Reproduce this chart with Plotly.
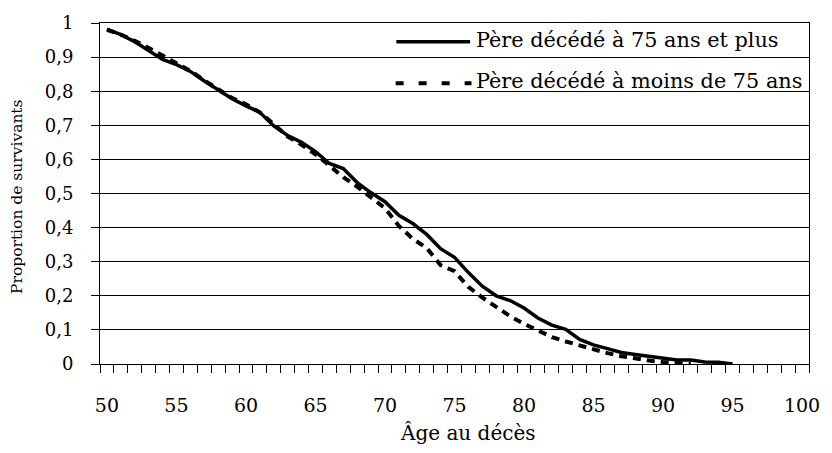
import plotly.graph_objects as go

# Ages (categories) and survival proportions
ages_pere_75_plus = list(range(50, 96))
survie_pere_75_plus = [
    0.982, 0.966, 0.945, 0.918, 0.893, 0.878, 0.858, 0.830, 0.805, 0.778,
    0.757, 0.738, 0.698, 0.670, 0.650, 0.623, 0.588, 0.573, 0.532, 0.502,
    0.476, 0.436, 0.412, 0.380, 0.338, 0.313, 0.268, 0.228, 0.200, 0.186,
    0.164, 0.135, 0.114, 0.102, 0.072, 0.056, 0.045, 0.034, 0.028, 0.022,
    0.017, 0.012, 0.012, 0.006, 0.005, 0.000,
]

ages_pere_moins_75 = list(range(50, 93))
survie_pere_moins_75 = [
    0.980, 0.966, 0.948, 0.928, 0.905, 0.882, 0.860, 0.832, 0.805, 0.780,
    0.762, 0.738, 0.703, 0.667, 0.643, 0.615, 0.582, 0.548, 0.520, 0.490,
    0.457, 0.405, 0.367, 0.340, 0.290, 0.272, 0.226, 0.195, 0.168, 0.140,
    0.118, 0.100, 0.079, 0.066, 0.055, 0.042, 0.032, 0.023, 0.016, 0.010,
    0.006, 0.003, 0.000,
]

series_names = ["Père décédé à 75 ans et plus", "Père décédé à moins de 75 ans"]

x_tick_vals = [50, 55, 60, 65, 70, 75, 80, 85, 90, 95, 100]
x_tick_labels = ["50", "55", "60", "65", "70", "75", "80", "85", "90", "95", "100"]
y_tick_vals = [0, 0.1, 0.2, 0.3, 0.4, 0.5, 0.6, 0.7, 0.8, 0.9, 1]
y_tick_labels = ["0", "0,1", "0,2", "0,3", "0,4", "0,5", "0,6", "0,7", "0,8", "0,9", "1"]

x_title = "Âge au décès"
y_title = "Proportion de survivants"

FONT = "DejaVu Serif"

fig = go.Figure()
fig.add_trace(go.Scatter(
    x=ages_pere_75_plus, y=survie_pere_75_plus, mode="lines",
    name=series_names[0], line=dict(color="black", width=3.5),
    showlegend=False,
))
fig.add_trace(go.Scatter(
    x=ages_pere_moins_75, y=survie_pere_moins_75, mode="lines",
    name=series_names[1], line=dict(color="black", width=4, dash="8px,6px"),
    showlegend=False,
))

# Legend drawn as sample lines + labels (Excel-like long samples)
fig.add_shape(type="line", xref="paper", yref="paper",
              x0=0.418, x1=0.522, y0=0.945, y1=0.945,
              line=dict(color="black", width=3.5))
fig.add_shape(type="line", xref="paper", yref="paper",
              x0=0.417, x1=0.524, y0=0.823, y1=0.823,
              line=dict(color="black", width=4, dash="8px,15px"))
fig.add_annotation(text=series_names[0], xref="paper", yref="paper",
                   x=0.527, y=0.951, xanchor="left", yanchor="middle",
                   showarrow=False, font=dict(family=FONT, size=20.8, color="black"))
fig.add_annotation(text=series_names[1], xref="paper", yref="paper",
                   x=0.527, y=0.830, xanchor="left", yanchor="middle",
                   showarrow=False, font=dict(family=FONT, size=20.8, color="black"))

# Axis titles
fig.add_annotation(text=x_title, xref="paper", yref="paper",
                   x=0.519, y=-0.202, xanchor="center", yanchor="middle",
                   showarrow=False, font=dict(family=FONT, size=20, color="black"))
fig.add_annotation(text=y_title, xref="paper", yref="paper",
                   x=-0.117, y=0.49, xanchor="center", yanchor="middle",
                   textangle=-90, showarrow=False,
                   font=dict(family=FONT, size=15.5, color="black"))

fig.update_layout(
    width=832, height=453,
    margin=dict(l=100, r=19, t=16, b=89),
    paper_bgcolor="white", plot_bgcolor="white",
    font=dict(family=FONT, size=19, color="black"),
    showlegend=False,
)
fig.update_xaxes(
    range=[49.5, 100.5],
    tickmode="array", tickvals=x_tick_vals, ticktext=x_tick_labels,
    ticks="", ticklabelstandoff=24,
    showgrid=False, zeroline=False,
    showline=True, linecolor="black", linewidth=1, mirror=True,
    minor=dict(ticks="outside", ticklen=8, tickcolor="black", tickwidth=1,
               tick0=49.5, dtick=1, showgrid=False),
    tickfont=dict(family=FONT, size=19, color="black"),
)
fig.update_yaxes(
    range=[0, 1],
    tickmode="array", tickvals=y_tick_vals, ticktext=y_tick_labels,
    ticks="outside", ticklen=8, tickcolor="black", tickwidth=1,
    ticklabelstandoff=14,
    showgrid=True, gridcolor="black", gridwidth=1, zeroline=False,
    showline=True, linecolor="black", linewidth=1, mirror=True,
    tickfont=dict(family=FONT, size=18, color="black"),
)

# Remove the browser's default 8px body margin so the figure fills the window.
fig.write_html("out.html", config={"displayModeBar": False},
               post_script="document.body.style.margin='0';")
